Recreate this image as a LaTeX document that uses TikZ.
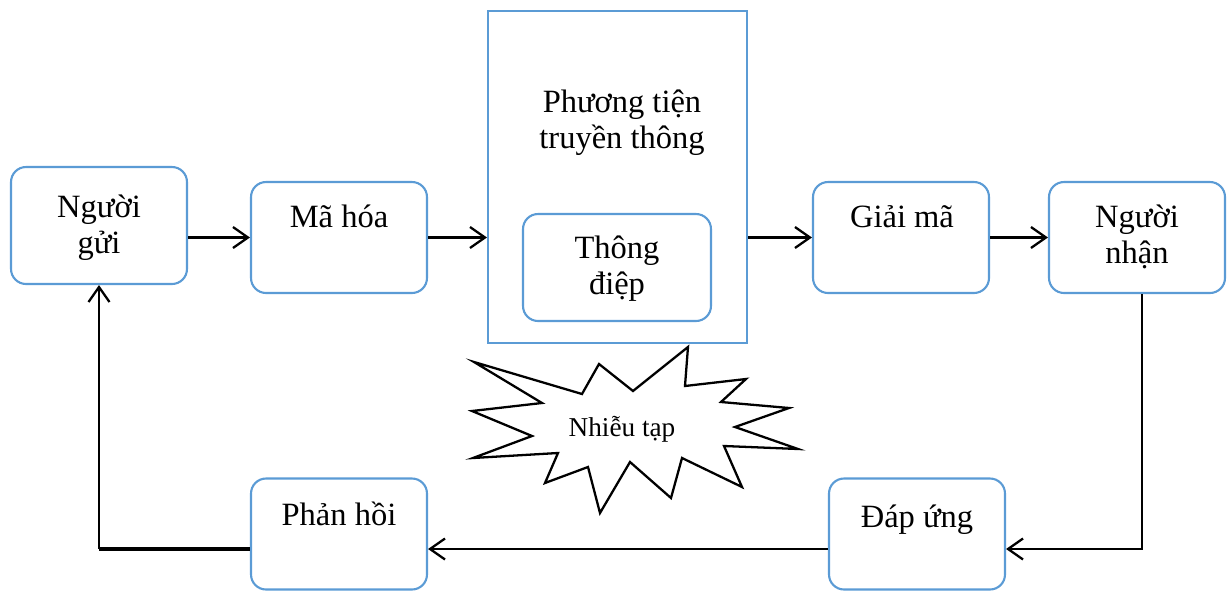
\documentclass[tikz,border=0pt]{standalone}
\usepackage{fontspec}
\setmainfont{Liberation Serif}
\usetikzlibrary{arrows.meta}
\definecolor{boxblue}{RGB}{91,155,213}
\tikzset{
  box/.style={draw=boxblue,line width=1.2pt,rounded corners=0.3cm,inner sep=0pt,minimum width=3.52cm,minimum height=2.22cm},
  txt/.style={anchor=base,align=center,inner sep=0pt,font=\fontsize{18.5}{20.4}\selectfont},
  arr/.style={line width=1.3pt,-{Straight Barb[length=3mm,width=4.2mm]}}
}

\begin{document}
\begin{tikzpicture}[x=0.02cm,y=-0.02cm]
\useasboundingbox (0,0) rectangle (1228,592);
% boxes
\node[box,minimum height=2.34cm] (gui) at (99,225.5) {};
\node[box] (mahoa) at (339,237.5) {};
\node[draw=boxblue,line width=0.9pt,inner sep=0pt,minimum width=5.19cm,minimum height=6.65cm] (media) at (617.5,177) {};
\node[box,minimum width=3.76cm,minimum height=2.14cm] (thongdiep) at (617,267.5) {};
\node[box] (giaima) at (901,237.5) {};
\node[box] (nhan) at (1137,237.5) {};
\node[box] (phanhoi) at (339,534) {};
\node[box] (dapung) at (917,534) {};
% texts (base = last line)
\node[txt] (guitxt) at (99,253) {Người\\gửi};
\node[txt] (mahoatxt) at (339,227) {Mã hóa};
\node[txt] (mediatxt) at (622,148) {Phương tiện\\truyền thông};
\node[txt] (thongdieptxt) at (617,294) {Thông\\điệp};
\node[txt] (giaimatxt) at (902,227) {Giải mã};
\node[txt] (nhantxt) at (1137,263) {Người\\nhận};
\node[txt] (phanhoitxt) at (339,525) {Phản hồi};
\node[txt] (dapungtxt) at (917,527) {Đáp ứng};
% noise
\draw[line width=1.3pt] (474,362) -- (582,394) -- (599,364) -- (633,391) -- (688,347) -- (685,386) -- (746,379) -- (721,402) -- (789,408) -- (735,427) -- (798,449) -- (724,446) -- (742,487) -- (682,458) -- (671,498) -- (630,462) -- (600,513) -- (588,467) -- (545,483) -- (558,453) -- (473,458) -- (532,436) -- (472,411) -- (542,403) -- cycle;
\node[anchor=base,inner sep=0pt,font=\fontsize{15.5}{17}\selectfont] (nhieu) at (622,436) {Nhiễu tạp};
% arrows
\draw[arr] (gui.east |- mahoa.west) -- (mahoa.west);
\draw[arr] (mahoa.east) -- (mahoa.east -| media.west);
\draw[arr] (media.east |- giaima.west) -- (giaima.west);
\draw[arr] (giaima.east) -- (nhan.west);
\coordinate (fb) at (0,549);
\draw[arr] ([xshift=0.1cm]nhan.south) |- (dapung.east |- fb);
\draw[arr] (dapung.west |- fb) -- (phanhoi.east |- fb);
\draw[line width=1.8pt] (phanhoi.west |- fb) -- (gui.south |- fb);
\draw[arr] (gui.south |- fb) -- (gui.south);
\end{tikzpicture}
\end{document}
